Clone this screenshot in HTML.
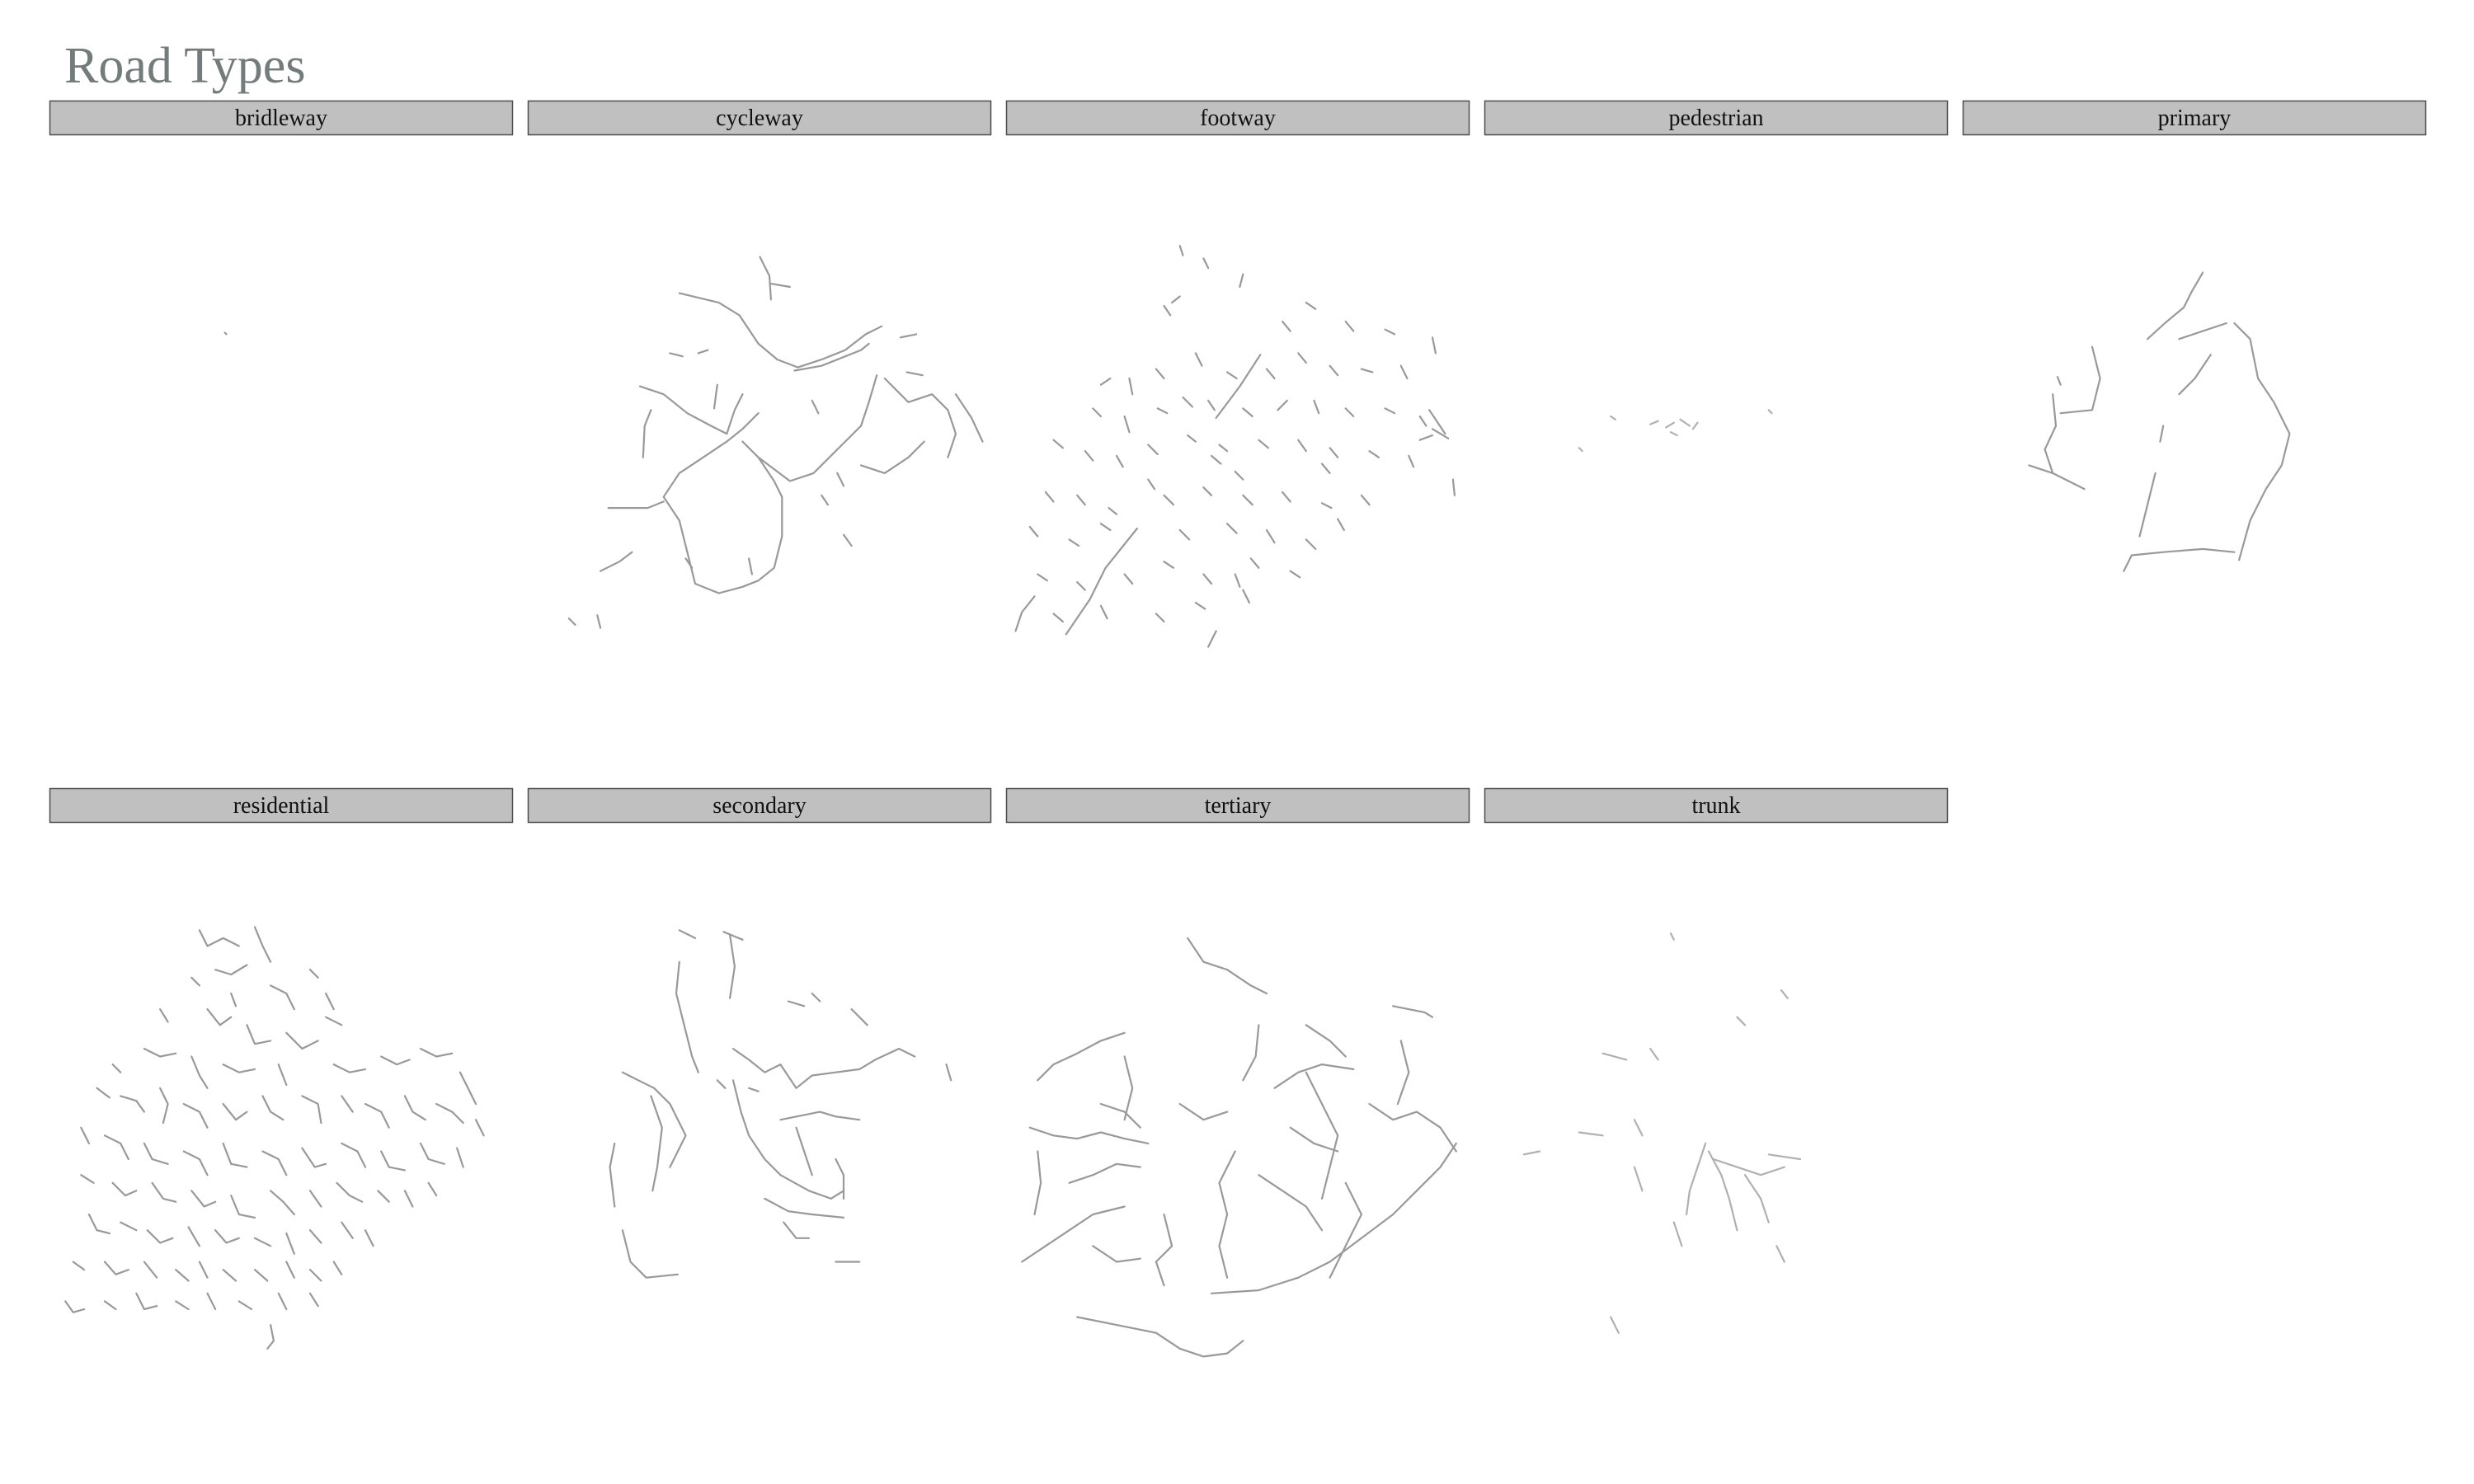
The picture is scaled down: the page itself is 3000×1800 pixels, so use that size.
<!DOCTYPE html>
<html><head><meta charset="utf-8"><style>
body{margin:0;background:#fff;width:3000px;height:1800px;overflow:hidden}
svg{display:block}
</style></head><body>
<svg id="chart" width="3000" height="1800" viewBox="0 0 3000 1800" xmlns="http://www.w3.org/2000/svg">
<text x="78" y="100" font-family="Liberation Serif, serif" font-size="62" fill="#737c7b">Road Types</text>
<g id="panels"></g>
</svg>
<script>
// facet categories
const categories = ["bridleway","cycleway","footway","pedestrian","primary","residential","secondary","tertiary","trunk"];
// road geometries per category, in map units (flat u,v lists per polyline)
const bridlewayRoads = [[111,147,112,148]];
const cyclewayRoads = [
[96,122,121,128,134,136,146,154,158,164,171,169,186,164,201,158,214,148,224,143],
[147,99,153,111,154,126],[154,116,166,118],[169,171,186,168,211,158,216,154],
[146,198,136,208,126,216,111,226,96,236,86,251,96,266,101,286,106,306,121,312,136,308,146,304,156,296,161,276,161,251,156,241,146,226,136,216],
[146,226,166,241,181,236,196,221,211,206,216,191,221,174],
[71,181,86,186,101,198,116,206,126,211],[78,196,74,206,73,226],[51,258,76,258,86,254],
[226,176,241,191,256,186,266,196,271,211,266,226],[211,231,226,236,241,226,251,216],
[271,186,281,201,288,216],[46,298,58,292,66,286],[126,211,131,196,136,186],
[26,328,30,332],[44,326,46,334],[108,160,114,158],[240,172,250,174],[196,236,200,244],
[186,250,190,256],[100,290,104,296],[120,180,118,195],[180,190,184,198],[236,150,246,148],
[90,160,98,162],[200,275,205,282],[140,290,142,300]];
const footwayRoads = [
[161,161,148,181,133,201],[83,271,63,296,53,316,38,338],[268,196,278,211],[133,336,128,346],[6,336,10,324,18,314],
[110,92,112,98],[125,100,128,106],[150,110,148,118],[105,128,110,124],[190,128,196,132],[215,140,220,146],
[240,145,246,148],[270,150,272,160],[60,180,66,176],[78,176,80,186],[95,170,100,176],[120,160,124,168],
[140,172,146,176],[165,170,170,176],[185,160,190,166],[205,168,210,174],[225,170,232,172],[250,168,254,176],
[55,195,60,200],[75,200,78,210],[96,195,102,198],[112,188,118,194],[128,190,132,196],[150,195,156,200],
[172,196,178,190],[195,190,198,198],[215,195,220,200],[240,195,246,198],[262,200,266,206],
[30,215,36,220],[50,222,55,228],[70,225,74,232],[90,218,96,224],[115,212,120,216],[135,218,140,222],
[160,215,166,220],[185,215,190,222],[205,220,210,226],[230,222,236,226],[255,225,258,232],
[25,248,30,254],[45,250,50,256],[65,258,70,262],[100,250,106,256],[125,245,130,250],[150,250,156,256],
[175,248,180,254],[200,255,206,258],[225,250,230,256],[15,270,20,276],[40,278,46,282],[60,268,66,272],
[110,272,116,278],[140,268,146,274],[165,272,170,280],[190,278,196,284],[210,265,214,272],
[20,300,26,304],[45,305,50,310],[75,300,80,306],[100,292,106,296],[125,300,130,306],[155,290,160,296],
[180,298,186,302],[30,325,36,330],[60,320,64,328],[95,325,100,330],[120,318,126,322],[150,310,154,318],
[100,130,104,136],[175,140,180,146],[130,225,136,230],[145,235,150,240],[90,240,94,246],[200,230,205,236],
[283,240,284,250],[270,208,280,214],[262,215,270,212],[145,300,148,308]];
const pedestrianRoads = [[105,205,110,203],[115,207,120,204],[124,202,130,206],[118,210,122,212],[132,208,135,204],[80,200,83,202],[180,196,182,198],[60,220,62,222]];
const primaryRoads = [
[152,109,145,121,140,131,128,141,117,151],
[172,141,182,151,187,176,197,191,207,211,202,231,192,246,182,266,175,291],
[172,286,152,284,127,286,107,288,102,298],[112,276,117,256,122,236],
[82,156,87,176,82,196,62,198],[57,186,59,206,52,221,57,236,77,246],[42,231,57,236],
[157,161,147,176,137,186],[167,141,152,146,137,151],[127,206,125,216],[60,175,62,180]];
const residentialRoads = [
[95,90,100,100,110,95,120,100],[130,88,135,100,140,110],[105,115,115,118,125,112],[140,125,150,130,155,140],
[100,140,108,150,115,145],[125,150,130,162,140,160],[150,155,160,165,170,160],[175,145,185,150],
[60,165,70,170,80,168],[90,170,95,182,100,190],[110,175,120,180,130,178],[145,175,150,188],
[180,175,190,180,200,178],[210,170,220,175,228,172],[235,165,245,170,255,168],[260,180,265,190,270,200],
[30,190,38,196],[45,195,55,198,60,205],[70,190,75,200,72,212],[85,200,95,205,100,215],
[110,200,118,210,125,205],[135,195,140,205,148,210],[160,195,170,200,172,212],[185,195,192,205],
[200,200,210,205,215,215],[225,195,230,205,238,210],[245,200,255,205,262,212],[270,210,275,220],
[20,215,25,225],[35,220,45,225,50,235],[60,225,65,235,75,238],[85,230,95,235,100,245],
[110,225,115,238,125,240],[135,230,145,235,150,245],[160,228,168,240,175,238],[185,225,195,230,200,240],
[210,230,215,240,225,242],[235,225,240,235,250,238],[258,228,262,240],
[20,245,28,250],[40,250,48,258,55,255],[65,250,72,260,80,262],[90,255,98,265,105,262],
[115,258,120,270,130,272],[140,255,148,262,155,270],[165,255,172,265],[182,250,190,258,198,262],
[208,255,215,262],[225,255,230,265],[240,250,245,258],
[25,270,30,280,38,282],[45,275,55,280],[62,280,70,288,78,285],[88,278,95,290],[105,280,112,288,120,285],
[130,285,140,290],[150,282,155,295],[165,280,172,288],[185,275,192,285],[200,280,205,290],
[15,300,22,305],[35,300,42,308,50,305],[60,300,68,310],[80,305,88,312],[95,300,100,310],[110,305,118,312],
[130,305,138,312],[150,300,155,310],[165,305,172,312],[180,300,185,308],
[10,325,15,332,22,330],[35,325,42,330],[55,320,60,330,68,328],[80,325,88,330],[100,320,105,330],
[120,325,128,330],[145,320,150,330],[165,320,170,328],[140,340,142,350,138,355],[90,120,95,125],
[165,115,170,120],[175,130,180,140],[40,175,45,180],[70,140,75,148],[115,130,118,138]];
const secondaryRoads = [
[96,90,106,95],[124,91,136,96],[128,93,131,113,128,133],
[96,110,94,130,99,150,104,170,108,180],
[130,165,140,172,150,180,160,175,170,190,180,182,195,180,210,178,220,172,235,165,245,170],
[60,180,70,185,80,190,90,200,100,220,90,240],[78,195,85,215,82,240,79,255],
[130,185,135,205,140,220,150,235,160,245,178,255,192,260,200,255],
[170,215,175,230,180,245],[160,210,185,205,195,208,210,210],[150,260,165,268,180,270,200,272],
[195,235,200,245,200,260],[55,225,52,240,55,265],[60,280,65,300,75,310,95,308],[195,300,210,300],
[162,275,170,285,178,285],[205,140,210,145,215,150],[265,175,268,185],[165,135,175,138],[180,130,185,135],
[120,185,125,190],[140,190,146,192]];
const tertiaryRoads = [
[115,95,125,110,140,115,155,125,165,130],[245,138,265,142,270,145],
[20,185,30,175,45,168,60,160,75,155],[15,215,30,220,45,222,60,218,75,222,90,225],
[145,230,135,250,140,270,135,290,140,310],[40,250,55,245,70,238,85,240],
[10,300,25,290,40,280,55,270,75,265],[45,335,70,340,95,345,110,355,125,360,140,358,150,350],
[130,320,160,318,185,310,205,300,225,285,245,270,260,255,275,240,285,225],
[190,180,200,200,210,220,205,240,200,260],[170,190,185,180,200,175,220,178],
[100,270,105,290,95,300,100,315],[230,200,245,210,260,205,275,215,285,230],
[160,245,175,255,190,265,200,280],[75,170,80,190,75,210],[215,250,225,270,215,290,205,310],
[110,200,125,210,140,205],[250,160,255,180,248,200],[180,215,195,225,210,230],[20,230,22,250,18,270],
[55,290,70,300,85,298],[160,150,158,170,150,185],[190,150,205,160,215,170],[60,200,75,205,85,215]];
const trunkRoads = [
[140,225,135,240,130,255,128,270],[142,230,150,245,155,260,160,280],[145,235,160,240,175,245,190,240],
[165,245,175,260,180,275],[60,218,75,220],[95,210,100,220],[85,345,80,335],[105,165,110,172],
[120,275,125,290],[180,232,200,235],[190,300,185,290],[75,168,90,172],[25,232,35,230],[188,128,192,133],
[118,92,120,96],[95,240,100,255],[160,145,165,150]];
const roadSets = [bridlewayRoads,cyclewayRoads,footwayRoads,pedestrianRoads,primaryRoads,residentialRoads,secondaryRoads,tertiaryRoads,trunkRoads];

const NS="http://www.w3.org/2000/svg";
const K=1.915;
function panelX(i){return 60+(i%5)*580;}
function panelY(i){return i<5?122:956;}
function xScale(i,u){return panelX(i)+u*K;}
function yScale(i,v){return panelY(i)+v*K;}
const root=document.getElementById('panels');
categories.forEach((cat,i)=>{
  const g=document.createElementNS(NS,'g');
  
  
  const r=document.createElementNS(NS,'rect');
  
  
  r.setAttribute('x',panelX(i)+0.5);r.setAttribute('y',panelY(i)+0.5);
  r.setAttribute('width',561);r.setAttribute('height',41);
  r.setAttribute('fill','#c0c0c0');r.setAttribute('stroke','#4d4d4d');r.setAttribute('stroke-width','1.5');
  g.appendChild(r);
  const t=document.createElementNS(NS,'text');
  
  
  t.setAttribute('x',panelX(i)+281);t.setAttribute('y',panelY(i)+30);
  t.setAttribute('text-anchor','middle');t.setAttribute('font-family','Liberation Serif, serif');
  t.setAttribute('font-size','28');t.setAttribute('fill','#111');
  t.textContent=cat;g.appendChild(t);
  roadSets[i].forEach(line=>{
    const p=document.createElementNS(NS,'polyline');
    
    
    let pts=[];
    for(let j=0;j<line.length;j+=2)pts.push(xScale(i,line[j]).toFixed(1)+','+yScale(i,line[j+1]).toFixed(1));
    p.setAttribute('points',pts.join(' '));
    p.setAttribute('fill','none');p.setAttribute('stroke',cat==='trunk'||cat==='pedestrian'?'#b0b0b0':'#999');
    p.setAttribute('stroke-width','2.2');p.setAttribute('stroke-linecap','round');p.setAttribute('stroke-linejoin','round');
    g.appendChild(p);
  });
  root.appendChild(g);
});
</script>
</body></html>
